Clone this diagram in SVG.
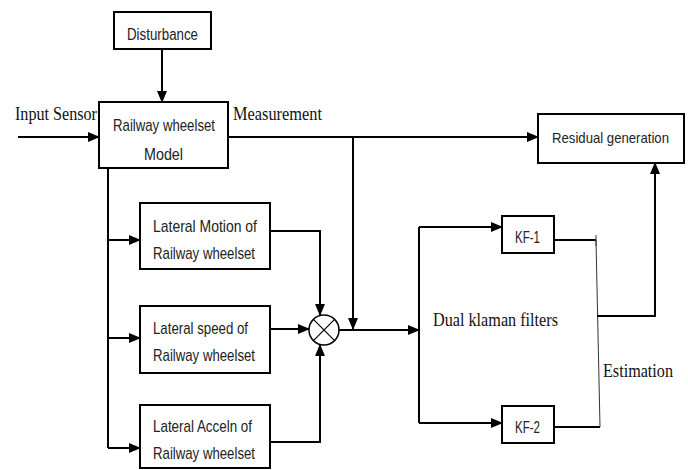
<svg xmlns="http://www.w3.org/2000/svg" width="688" height="470" viewBox="0 0 688 470">
<style>
.box{fill:#fff;stroke:#000;stroke-width:2}
.ln{fill:none;stroke:#000;stroke-width:2}
.thin{fill:none;stroke:#333;stroke-width:1}
.t{font-family:"Liberation Sans",Arial,sans-serif;font-size:17px;fill:#222}
.s{font-family:"Liberation Serif","Times New Roman",serif;font-size:18px;fill:#111}
</style>
<defs>
<marker id="ah" markerWidth="12" markerHeight="10" refX="11" refY="5" orient="auto" markerUnits="userSpaceOnUse">
<path d="M0,0 L12,5 L0,10 z" fill="#000"/>
</marker>
</defs>
<rect width="688" height="470" fill="#fff"/>
<g id="connectors">
<path class="ln" d="M162 49 V102" marker-end="url(#ah)"/>
<path class="ln" d="M18 137 H99" marker-end="url(#ah)"/>
<path class="ln" d="M228 137 H538" marker-end="url(#ah)"/>
<path class="ln" d="M353 137 V329" marker-end="url(#ah)"/>
<path class="ln" d="M108 168 V448"/>
<path class="ln" d="M108 240 H140" marker-end="url(#ah)"/>
<path class="ln" d="M108 338 H140" marker-end="url(#ah)"/>
<path class="ln" d="M108 448 H140" marker-end="url(#ah)"/>
<path class="ln" d="M270 231 H320 V315" marker-end="url(#ah)"/>
<path class="ln" d="M270 329 H309" marker-end="url(#ah)"/>
<path class="ln" d="M270 442 H320 V345" marker-end="url(#ah)"/>
<path class="ln" d="M339 330 H419" marker-end="url(#ah)"/>
<path class="ln" d="M419 227 V423"/>
<path class="ln" d="M419 227 H502" marker-end="url(#ah)"/>
<path class="ln" d="M419 423 H502" marker-end="url(#ah)"/>
<path class="ln" d="M554 240 H596"/>
<path class="thin" d="M596 235 V246"/>
<path class="ln" d="M554 427 H600"/>
<path class="thin" d="M596 240 L600 427"/>
<path class="ln" d="M597 316 H655 V163" marker-end="url(#ah)"/>
</g>
<g id="disturbance">
<rect class="box" x="114" y="12" width="97" height="37"/>
<text class="t" x="127" y="40" textLength="71" lengthAdjust="spacingAndGlyphs" style="font-size:16px">Disturbance</text>
</g>
<g id="model">
<rect class="box" x="99" y="102" width="129" height="66"/>
<text class="t" x="113" y="131" textLength="102" lengthAdjust="spacingAndGlyphs">Railway wheelset</text>
<text class="t" x="144" y="160" textLength="39" lengthAdjust="spacingAndGlyphs">Model</text>
</g>
<g id="input-label"><text class="s" x="15" y="120" textLength="82" lengthAdjust="spacingAndGlyphs">Input Sensor</text></g>
<g id="measurement-label"><text class="s" x="233" y="120" textLength="89" lengthAdjust="spacingAndGlyphs">Measurement</text></g>
<g id="residual">
<rect class="box" x="538" y="114" width="146" height="49"/>
<text class="t" x="552" y="143" textLength="117" lengthAdjust="spacingAndGlyphs" style="font-size:15px">Residual generation</text>
</g>
<g id="lateral-motion">
<rect class="box" x="140" y="203" width="130" height="66"/>
<text class="t" x="153" y="232" textLength="104" lengthAdjust="spacingAndGlyphs">Lateral Motion of</text>
<text class="t" x="153" y="259" textLength="102" lengthAdjust="spacingAndGlyphs">Railway wheelset</text>
</g>
<g id="lateral-speed">
<rect class="box" x="140" y="306" width="130" height="67"/>
<text class="t" x="153" y="334" textLength="95" lengthAdjust="spacingAndGlyphs">Lateral speed of</text>
<text class="t" x="153" y="361" textLength="102" lengthAdjust="spacingAndGlyphs">Railway wheelset</text>
</g>
<g id="lateral-acceln">
<rect class="box" x="140" y="405" width="130" height="63"/>
<text class="t" x="153" y="432" textLength="99" lengthAdjust="spacingAndGlyphs">Lateral Acceln of</text>
<text class="t" x="153" y="459" textLength="102" lengthAdjust="spacingAndGlyphs">Railway wheelset</text>
</g>
<g id="mixer">
<circle cx="324" cy="330" r="15" fill="#fff" stroke="#000" stroke-width="1.5"/>
<path d="M313.4 319.4 L334.6 340.6 M334.6 319.4 L313.4 340.6" stroke="#000" stroke-width="1.2"/>
</g>
<g id="dual-label"><text class="s" x="433" y="326" textLength="125" lengthAdjust="spacingAndGlyphs">Dual klaman filters</text></g>
<g id="kf1">
<rect class="box" x="502" y="216" width="52" height="37"/>
<text class="t" x="515" y="243" textLength="25" lengthAdjust="spacingAndGlyphs" style="font-size:16px">KF-1</text>
</g>
<g id="kf2">
<rect class="box" x="502" y="406" width="52" height="37"/>
<text class="t" x="515" y="433" textLength="25" lengthAdjust="spacingAndGlyphs" style="font-size:16px">KF-2</text>
</g>
<g id="estimation-label"><text class="s" x="603" y="377" textLength="70" lengthAdjust="spacingAndGlyphs">Estimation</text></g>
</svg>
